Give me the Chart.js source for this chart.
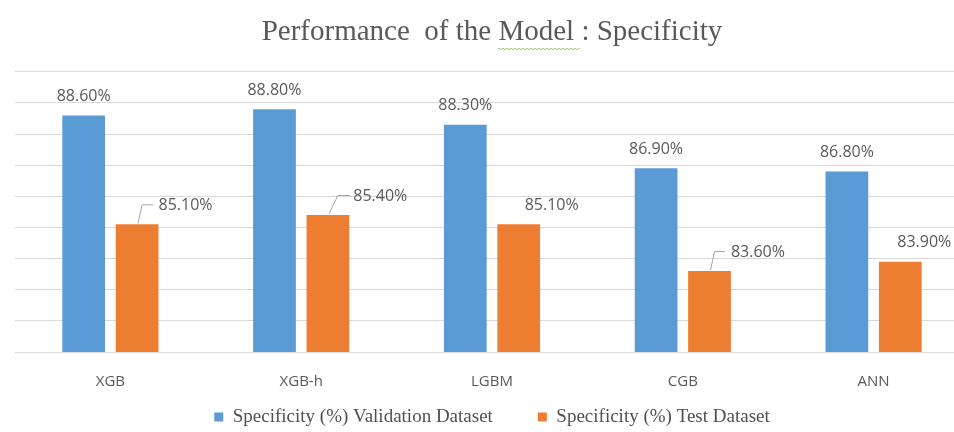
<!DOCTYPE html>
<html><head><meta charset="utf-8">
<script src="https://cdn.jsdelivr.net/npm/chart.js@4.4.1/dist/chart.umd.min.js"></script>
<style>
html,body{margin:0;padding:0;overflow:hidden;background:#fff;width:954px;height:432px}
#wrap{width:970px;height:432px;position:relative}
</style>
</head><body><div id="wrap"><canvas id="c" width="970" height="432"></canvas></div>
<script>
// ---- data ----
const categories = ['XGB', 'XGB-h', 'LGBM', 'CGB', 'ANN'];
const validationSpecificity = [88.6, 88.8, 88.3, 86.9, 86.8];
const testSpecificity = [85.1, 85.4, 85.1, 83.6, 83.9];
const seriesNames = ['Specificity (%) Validation Dataset', 'Specificity (%) Test Dataset'];
const yMin = 81, yMax = 90, yStep = 1;
const chartTitle = 'Performance  of the Model : Specificity';

// ---- styling ----
const BLUE = '#5B9BD5', ORANGE = '#ED7D31';
const LABEL_COLOR = '#595959';

// label placements (style only, relative to each bar's top)
const labelPlacements = [
  [{}, {}, {}, {}, {}],
  [
    {left: 0, leader: true, elbowDx: 5, endDx: -5},
    {left: 4, leader: true, elbowDx: 10, endDx: 1},
    {centerDx: 33},
    {left: 0, leader: true, elbowDx: 5, endDx: -6},
    {centerDx: 24}
  ]
];

const barLabels = {
  id: 'barLabels',
  afterDatasetsDraw(chart) {
    const ctx = chart.ctx;
    ctx.save();
    ctx.font = '16px "Open Sans", sans-serif';
    ctx.fillStyle = LABEL_COLOR;
    ctx.textBaseline = 'middle';
    chart.data.datasets.forEach((ds, di) => {
      const meta = chart.getDatasetMeta(di);
      meta.data.forEach((bar, i) => {
        const text = ds.data[i].toFixed(2) + '%';
        const p = labelPlacements[di][i] || {};
        const half = bar.width / 2;
        const ty = bar.y - 19;
        if (p.left !== undefined) {
          ctx.textAlign = 'left';
          ctx.fillText(text, bar.x + half + p.left, ty);
          if (p.leader) {
            ctx.beginPath();
            ctx.strokeStyle = '#a6a6a6';
            ctx.lineWidth = 1;
            ctx.moveTo(bar.x + 1, bar.y - 1);
            ctx.lineTo(bar.x + p.elbowDx, ty - 0.5);
            ctx.lineTo(bar.x + half + p.endDx, ty - 0.5);
            ctx.stroke();
          }
        } else {
          ctx.textAlign = 'center';
          ctx.fillText(text, bar.x + (p.centerDx || 0), ty);
        }
      });
    });
    ctx.restore();
  }
};

// spell-check squiggle under "Model" in the title
const squiggle = {
  id: 'squiggle',
  afterDraw(chart) {
    const t = chart.titleBlock;
    if (!t) return;
    const ctx = chart.ctx;
    ctx.save();
    ctx.font = '29px "Liberation Serif", serif';
    const full = ctx.measureText(chartTitle).width;
    const idx = chartTitle.indexOf('Model');
    const pre = ctx.measureText(chartTitle.slice(0, idx)).width;
    const w = ctx.measureText('Model').width;
    const x0 = (t.left + t.right - full) / 2 + pre;
    const y = t.top + 15 + 34.8 / 2 + 16;
    ctx.strokeStyle = '#7cb342';
    ctx.lineWidth = 1;
    ctx.beginPath();
    for (let x = 0; x <= w + 6; x += 1) {
      const yy = y + ((Math.floor(x / 2) % 2) ? 1 : 0);
      if (x === 0) ctx.moveTo(x0 + x, yy); else ctx.lineTo(x0 + x, yy);
    }
    ctx.stroke();
    ctx.restore();
  }
};

new Chart(document.getElementById('c'), {
  type: 'bar',
  data: {
    labels: categories,
    datasets: [
      {label: seriesNames[0], data: validationSpecificity, backgroundColor: BLUE},
      {label: seriesNames[1], data: testSpecificity, backgroundColor: ORANGE}
    ]
  },
  options: {
    responsive: false,
    animation: false,
    devicePixelRatio: 1,
    categoryPercentage: 0.56,
    barPercentage: 0.8,
    layout: {padding: {left: 15, right: 1, top: 0, bottom: -4.5}},
    scales: {
      x: {
        grid: {display: false, drawTicks: false},
        border: {display: false},
        ticks: {color: LABEL_COLOR, font: {family: '"Open Sans", sans-serif', size: 15}, padding: 21},
        afterFit(scale) {
          scale.height = 10.5;
          scale._computeLabelArea = () => undefined; // let labels overflow the shrunken axis box
        }
      },
      y: {
        min: yMin, max: yMax,
        ticks: {display: false, stepSize: yStep},
        grid: {color: '#d9d9d9', drawTicks: false, lineWidth: 1},
        border: {display: false}
      }
    },
    plugins: {
      title: {
        display: true,
        text: chartTitle,
        color: '#595959',
        font: {family: '"Liberation Serif", serif', size: 29, weight: 'normal'},
        padding: {top: 15, bottom: 22}
      },
      legend: {
        position: 'bottom',
        labels: {
          color: '#505050',
          font: {family: '"Liberation Serif", serif', size: 19},
          boxWidth: 9, boxHeight: 9,
          padding: 45
        }
      },
      tooltip: {enabled: false}
    }
  },
  plugins: [barLabels, squiggle]
});
</script>
</body></html>
